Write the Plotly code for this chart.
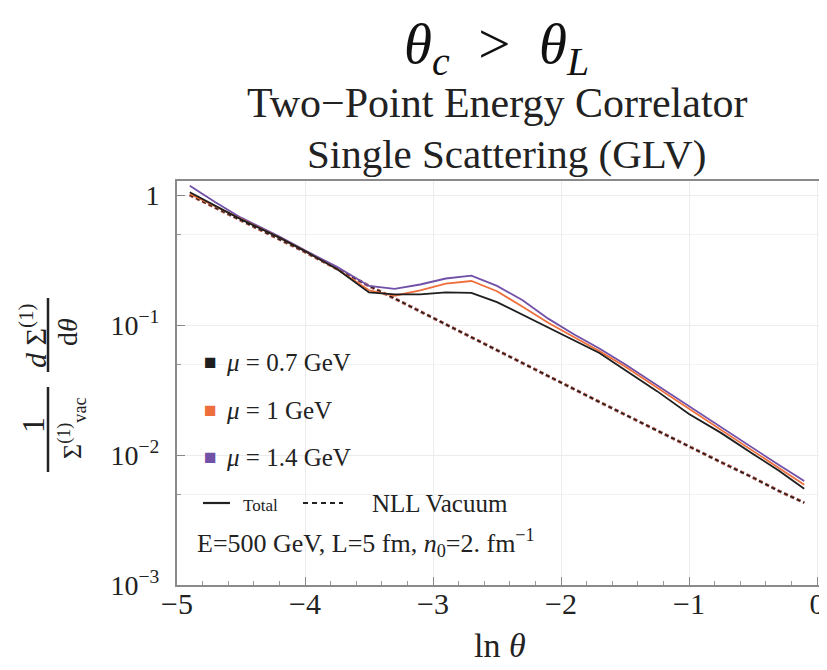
import plotly.graph_objects as go

# ---------------- data ----------------
ln_theta = [-4.9, -4.7, -4.5, -4.2, -4.0, -3.75, -3.5, -3.3, -3.1, -2.9, -2.7, -2.5,
            -2.3, -2.1, -1.9, -1.7, -1.5, -1.25, -1.0, -0.75, -0.5, -0.3, -0.1]

total_mu07 = [1.05, 0.83, 0.65, 0.47, 0.37, 0.27, 0.178, 0.172, 0.172, 0.178, 0.177, 0.150,
              0.120, 0.095, 0.077, 0.061, 0.045, 0.031, 0.0207, 0.0148, 0.0102, 0.0076, 0.0055]
total_mu10 = [1.02, 0.82, 0.65, 0.47, 0.37, 0.27, 0.185, 0.168, 0.185, 0.208, 0.218, 0.182,
              0.138, 0.104, 0.081, 0.063, 0.048, 0.033, 0.0225, 0.0155, 0.0107, 0.0080, 0.0059]
total_mu14 = [1.18, 0.88, 0.67, 0.48, 0.375, 0.28, 0.200, 0.190, 0.205, 0.228, 0.240, 0.200,
              0.155, 0.112, 0.085, 0.066, 0.050, 0.0345, 0.0235, 0.0163, 0.0113, 0.0084, 0.0063]
nll_vacuum = [1.00, 0.80, 0.64, 0.46, 0.365, 0.27, 0.20, 0.16, 0.127, 0.101, 0.080, 0.064,
              0.051, 0.0405, 0.0322, 0.0256, 0.0204, 0.0154, 0.0117, 0.0088, 0.0067, 0.0053, 0.0043]

series_labels = ["μ = 0.7 GeV", "μ = 1 GeV", "μ = 1.4 GeV"]
series_colors = ["#1e1e1e", "#ee6f3c", "#7150a8"]

x_tick_vals = [-5, -4, -3, -2, -1, 0]
x_tick_text = ["−5", "−4", "−3", "−2", "−1", "0"]
y_tick_vals = [1, 0.1, 0.01, 0.001]
y_tick_text = ["1", "10<sup>−1</sup>", "10<sup>−2</sup>", "10<sup>−3</sup>"]
y_minor_vals = [0.5, 0.05, 0.005]

SERIF = "Liberation Serif, Times New Roman, serif"

# ---------------- figure ----------------
fig = go.Figure()

# vacuum (dashed) - identical for each mu, drawn in each colour
for col, w in zip([series_colors[2], series_colors[1], series_colors[0]], [3.0, 3.0, 1.6]):
    fig.add_trace(go.Scatter(x=ln_theta, y=nll_vacuum, mode="lines",
                             line=dict(color=col, width=w, dash="4px,3px"),
                             opacity=0.8 if w > 2 else 1.0,
                             showlegend=False, hoverinfo="skip"))
# totals
for vals, col in zip([total_mu14, total_mu10, total_mu07],
                     [series_colors[2], series_colors[1], series_colors[0]]):
    fig.add_trace(go.Scatter(x=ln_theta, y=vals, mode="lines",
                             line=dict(color=col, width=1.8),
                             showlegend=False, hoverinfo="skip"))

OFF = 8                      # page body margin of the browser
W, H = 827, 670
L, R, T, B = 169, 8, 173, 93
PW, PH = W - L - R, H - T - B


def px(xa):                  # absolute screenshot x -> paper
    return (xa - OFF - L) / PW


def py(ya):                  # absolute screenshot y -> paper
    return (H - B - (ya - OFF)) / PH


def note(x, y, text, size, **kw):
    d = dict(x=px(x), y=py(y), xref="paper", yref="paper", showarrow=False,
             xanchor=kw.pop("xanchor", "center"), yanchor="middle", text=text,
             font=dict(family=SERIF, size=size, color=kw.pop("color", "#222")))
    d.update(kw)
    return d


ann = []
# titles
ann.append(note(496, 48, "<i>θ</i><sub><i>c</i></sub>  >  <i>θ</i><sub><i>L</i></sub>", 57,
                color="#111"))
ann.append(note(497, 103, "Two−Point Energy Correlator", 42))
ann.append(note(506, 154, "Single Scattering (GLV)", 41))
# x-axis title
ann.append(note(500, 645, "ln <i>θ</i>", 34))
# y-axis title as two stacked fractions (rotated)
ann.append(note(33, 425, "1", 32, textangle=-90))
ann.append(note(72, 428, "Σ<sup>(1)</sup><sub>vac</sub>", 26, textangle=-90))
ann.append(note(33, 336, "<i>d</i> Σ<sup>(1)</sup>", 30, textangle=-90))
ann.append(note(67, 332, "d<i>θ</i>", 28, textangle=-90))

# legend
leg_y = [362, 410, 457]
for lab, col, yy in zip(series_labels, series_colors, leg_y):
    ann.append(note(202, yy, "■", 21, xanchor="left", color=col))
    ann.append(note(224, yy, f"<i>μ</i>{lab[1:]}", 25, xanchor="left"))
ann.append(note(241, 505, "Total", 17, xanchor="left"))
ann.append(note(370, 503, "NLL Vacuum", 25, xanchor="left"))
ann.append(note(195, 543, "E=500 GeV, L=5 fm, <i>n</i><sub>0</sub>=2. fm<sup>−1</sup>", 26,
                xanchor="left"))

shapes = []
# fraction bars of y label
shapes.append(dict(type="line", xref="paper", yref="paper", x0=px(48), x1=px(48),
                   y0=py(387), y1=py(472), line=dict(color="#222", width=2.5)))
shapes.append(dict(type="line", xref="paper", yref="paper", x0=px(48), x1=px(48),
                   y0=py(298), y1=py(372), line=dict(color="#222", width=2.5)))
# legend line samples
shapes.append(dict(type="line", xref="paper", yref="paper", x0=px(203), x1=px(230),
                   y0=py(503), y1=py(503), line=dict(color="#222", width=2.2)))
shapes.append(dict(type="line", xref="paper", yref="paper", x0=px(303), x1=px(343),
                   y0=py(503), y1=py(503), line=dict(color="#222", width=2.2, dash="5px,4px")))

fig.update_layout(
    width=W, height=H,
    margin=dict(l=L, r=R, t=T, b=B, autoexpand=False),
    paper_bgcolor="white", plot_bgcolor="white",
    annotations=ann, shapes=shapes,
    showlegend=False,
    xaxis=dict(range=[-5, 0.078], tickvals=x_tick_vals, ticktext=x_tick_text,
               ticks="inside", ticklen=8, tickcolor="#888", tickwidth=1.2,
               showline=True, linecolor="#8a8a8a", linewidth=2, mirror=True,
               showgrid=True, gridcolor="#ececec", gridwidth=1, zeroline=False,
               ticklabelstandoff=-9,
               tickfont=dict(family=SERIF, size=30, color="#222"),
               minor=dict(dtick=0.2, ticks="inside", ticklen=4, tickcolor="#999",
                          showgrid=False)),
    yaxis=dict(type="log", range=[-3, 0.108], tickvals=y_tick_vals, ticktext=y_tick_text,
               ticks="inside", ticklen=8, tickcolor="#888", tickwidth=1.2,
               showline=True, linecolor="#8a8a8a", linewidth=2,
               showgrid=True, gridcolor="#ececec", gridwidth=1, zeroline=False,
               ticklabelstandoff=10,
               tickfont=dict(family=SERIF, size=28, color="#222"),
               minor=dict(tickvals=y_minor_vals, ticks="inside", ticklen=4,
                          tickcolor="#999", showgrid=True, gridcolor="#f2f2f2")),
)

fig.write_html("out.html")
